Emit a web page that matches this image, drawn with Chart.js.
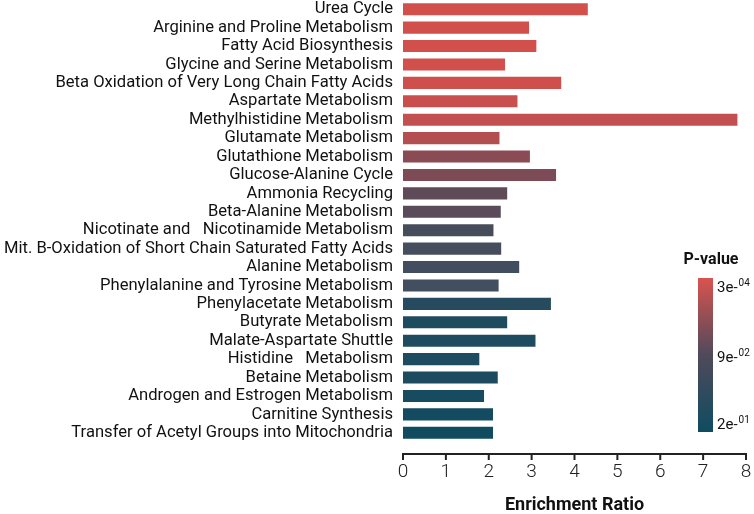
<!DOCTYPE html>
<html>
<head>
<meta charset="utf-8">
<script src="https://cdn.jsdelivr.net/npm/chart.js@4.4.1/dist/chart.umd.min.js"></script>
<style>
  html, body { margin: 0; padding: 0; background: #fff; }
  #wrap { width: 754px; height: 514px; position: relative; }
</style>
</head>
<body>
<div id="wrap"><canvas id="enrichment-chart"></canvas></div>
<script>
var pathways = [
  'Urea Cycle',
  'Arginine and Proline Metabolism',
  'Fatty Acid Biosynthesis',
  'Glycine and Serine Metabolism',
  'Beta Oxidation of Very Long Chain Fatty Acids',
  'Aspartate Metabolism',
  'Methylhistidine Metabolism',
  'Glutamate Metabolism',
  'Glutathione Metabolism',
  'Glucose-Alanine Cycle',
  'Ammonia Recycling',
  'Beta-Alanine Metabolism',
  'Nicotinate and   Nicotinamide Metabolism',
  'Mit. B-Oxidation of Short Chain Saturated Fatty Acids',
  'Alanine Metabolism',
  'Phenylalanine and Tyrosine Metabolism',
  'Phenylacetate Metabolism',
  'Butyrate Metabolism',
  'Malate-Aspartate Shuttle',
  'Histidine   Metabolism',
  'Betaine Metabolism',
  'Androgen and Estrogen Metabolism',
  'Carnitine Synthesis',
  'Transfer of Acetyl Groups into Mitochondria'
];

var enrichmentRatio = [
  4.31, 2.94, 3.11, 2.38, 3.69, 2.67, 7.80, 2.25, 2.96, 3.57, 2.43, 2.28,
  2.11, 2.29, 2.71, 2.23, 3.45, 2.43, 3.09, 1.78, 2.21, 1.89, 2.10, 2.10
];

// colour of each bar, by p-value (red = small p, teal = large p)
var barColors = [
  '#d2504b', '#d2504b', '#d2504b', '#d1504b', '#cf4f4c', '#c94f4e',
  '#c25050', '#b44f51', '#8a4b55', '#7c4b56', '#5f4a58', '#5a4a5a',
  '#474c5b', '#464d5c', '#424e60', '#434e5f', '#264a5e', '#1f4b5e',
  '#1e4b5f', '#1e4b5f', '#1c4b5f', '#174b5f', '#134b60', '#104b60'
];

var xTicks = [0, 1, 2, 3, 4, 5, 6, 7, 8];

var legendLabels = [
  { base: '3e-', exp: '04' },
  { base: '9e-', exp: '02' },
  { base: '2e-', exp: '01' }
];

// draws the detached x axis line with downward ticks
var axisLinePlugin = {
  id: 'axisLine',
  afterDraw: function (chart) {
    var ctx = chart.ctx;
    var x = chart.scales.x;
    var y = chart.chartArea.bottom + 12;
    ctx.save();
    ctx.strokeStyle = '#222';
    ctx.lineWidth = 2;
    ctx.beginPath();
    ctx.moveTo(x.getPixelForValue(xTicks[0]) - 1, y);
    ctx.lineTo(x.getPixelForValue(xTicks[xTicks.length - 1]) + 1, y);
    xTicks.forEach(function (t) {
      var px = x.getPixelForValue(t);
      ctx.moveTo(px, y);
      ctx.lineTo(px, y + 6);
    });
    ctx.stroke();
    ctx.restore();
  }
};

// p-value colour bar legend
var colorBarPlugin = {
  id: 'colorBar',
  afterDraw: function (chart) {
    var ctx = chart.ctx;
    var left = 698, top = 278, w = 15, h = 154;
    ctx.save();
    ctx.fillStyle = '#111';
    ctx.font = 'bold 16px Roboto';
    ctx.textAlign = 'center';
    ctx.textBaseline = 'middle';
    ctx.fillText('P-value', 711, 260);

    var grad = ctx.createLinearGradient(0, top, 0, top + h);
    grad.addColorStop(0, '#d9534f');
    grad.addColorStop(0.5, '#4f4a5b');
    grad.addColorStop(1, '#0f4c60');
    ctx.fillStyle = grad;
    ctx.fillRect(left, top, w, h);

    var ys = [287, 357, 424];
    ctx.textAlign = 'left';
    ctx.fillStyle = '#111';
    legendLabels.forEach(function (lab, i) {
      ctx.font = '15px Roboto';
      ctx.textBaseline = 'middle';
      ctx.fillText(lab.base, 717, ys[i] + 1);
      var bw = ctx.measureText(lab.base).width;
      ctx.font = '10px Roboto';
      ctx.fillText(lab.exp, 717 + bw + 1, ys[i] - 4);
    });
    ctx.restore();
  }
};

document.addEventListener('DOMContentLoaded', function () {
  var ctx = document.getElementById('enrichment-chart').getContext('2d');

  var chart = new Chart(ctx, {
    type: 'bar',
    data: {
      labels: pathways,
      datasets: [
        {
          label: 'Enrichment Ratio',
          data: enrichmentRatio,
          backgroundColor: barColors,
          borderWidth: 0,
          barPercentage: 0.66,
          categoryPercentage: 1
        }
      ]
    },
    options: {
      indexAxis: 'y',
      responsive: true,
      maintainAspectRatio: false,
      animation: false,
      layout: { padding: { top: 0, right: 8, left: 0, bottom: 0 } },
      plugins: {
        legend: { display: false },
        tooltip: { enabled: false }
      },
      scales: {
        x: {
          min: 0,
          max: 8,
          afterBuildTicks: function (scale) {
            scale.ticks = xTicks.map(function (v) { return { value: v }; });
          },
          afterFit: function (scale) {
            scale.height = 72;
            scale.paddingLeft = 0;
            scale.paddingRight = 0;
          },
          grid: { display: false, drawTicks: false },
          border: { display: false },
          ticks: {
            color: '#222',
            padding: 19,
            font: { family: 'Roboto', size: 19, weight: '300' }
          },
          title: {
            display: true,
            text: 'Enrichment Ratio',
            color: '#111',
            padding: { top: 0, bottom: -2 },
            font: { family: 'Roboto', size: 18, weight: 'bold' }
          }
        },
        y: {
          afterFit: function (scale) {
            scale.width = 403;
            scale.paddingTop = 0;
            scale.paddingBottom = 0;
          },
          grid: { display: false, drawTicks: false },
          border: { display: false },
          ticks: {
            color: '#111',
            padding: 10,
            autoSkip: false,
            font: { family: 'Roboto', size: 16.6 }
          }
        }
      }
    },
    plugins: [axisLinePlugin, colorBarPlugin]
  });
});
</script>
</body>
</html>
